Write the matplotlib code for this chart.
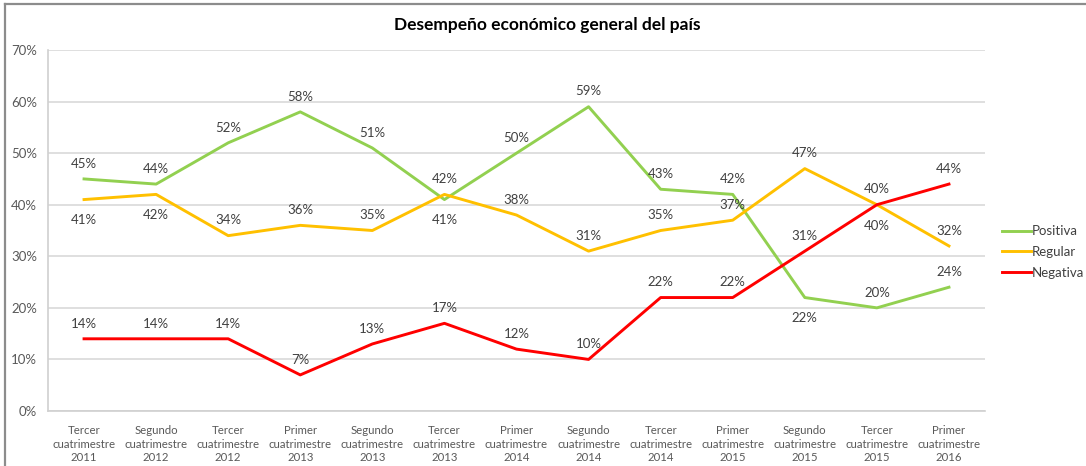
import matplotlib
matplotlib.use("Agg")
import matplotlib.pyplot as plt
from matplotlib.lines import Line2D

periods = [
    "Tercer\ncuatrimestre\n2011", "Segundo\ncuatrimestre\n2012", "Tercer\ncuatrimestre\n2012",
    "Primer\ncuatrimestre\n2013", "Segundo\ncuatrimestre\n2013", "Tercer\ncuatrimestre\n2013",
    "Primer\ncuatrimestre\n2014", "Segundo\ncuatrimestre\n2014", "Tercer\ncuatrimestre\n2014",
    "Primer\ncuatrimestre\n2015", "Segundo\ncuatrimestre\n2015", "Tercer\ncuatrimestre\n2015",
    "Primer\ncuatrimestre\n2016",
]
positiva = [45, 44, 52, 58, 51, 41, 50, 59, 43, 42, 22, 20, 24]
regular = [41, 42, 34, 36, 35, 42, 38, 31, 35, 37, 47, 40, 32]
negativa = [14, 14, 14, 7, 13, 17, 12, 10, 22, 22, 31, 40, 44]
yticks = [0, 10, 20, 30, 40, 50, 60, 70]

# label placement per point: +1 above the line, -1 below it
pos_side = [1, 1, 1, 1, 1, -1, 1, 1, 1, 1, -1, 1, 1]
reg_side = [-1, -1, 1, 1, 1, 1, 1, 1, 1, 1, 1, -1, 1]
neg_side = [1, 1, 1, 1, 1, 1, 1, 1, 1, 1, 1, 1, 1]

plt.rcParams['font.family'] = ['Lato', 'DejaVu Sans']

W, H = 1086, 466
fig = plt.figure(figsize=(W / 100, H / 100), dpi=100)
ax = fig.add_axes([48 / W, 1 - 411 / H, (985 - 48) / W, (411 - 50) / H])

series = [
    ("Positiva", positiva, "#92D050", pos_side),
    ("Regular", regular, "#FFC000", reg_side),
    ("Negativa", negativa, "#FF0000", neg_side),
]
x = list(range(len(periods)))
handles = []
for name, vals, color, sides in series:
    ax.plot(x, vals, color=color, lw=2.1, solid_joinstyle="round", zorder=3)
    handles.append(Line2D([0], [0], color=color, lw=2.1, label=name))
    for xi, v, s in zip(x, vals, sides):
        ax.annotate(f"{v}%", (xi, v), xytext=(0, 11 if s > 0 else -15),
                    textcoords="offset points", ha="center", va="center",
                    fontsize=9.5, color="#404040", zorder=4)

ax.set_xlim(-0.5, len(periods) - 0.5)
ax.set_ylim(0, 70)
ax.set_yticks(yticks)
ax.set_yticklabels([f"{t}%" for t in yticks], fontsize=9.5, color="#595959")
ax.set_xticks(x)
ax.set_xticklabels(periods, fontsize=8.2, color="#595959", linespacing=1.3)
ax.tick_params(axis="y", length=0, pad=8)
ax.tick_params(axis="x", length=0, pad=10)
ax.grid(axis="y", color="#D9D9D9", lw=1.2)
ax.set_axisbelow(True)
for sp in ["top", "right"]:
    ax.spines[sp].set_visible(False)
for sp in ["left", "bottom"]:
    ax.spines[sp].set_color("#D0D0D0")
    ax.spines[sp].set_linewidth(1.2)

fig.text(547 / W, 1 - 25 / H, "Desempeño económico general del país",
         ha="center", va="center", fontsize=12.5, fontweight="bold", color="black")

fig.legend(handles=handles, loc="center left", bbox_to_anchor=(990 / W, 1 - 252 / H),
           frameon=False, fontsize=9.5, handlelength=2.2, handletextpad=0.1,
           labelspacing=0.65, labelcolor="#404040")

# chart frame edges
fig.add_artist(Line2D([5 / W, 1], [1 - 4 / H, 1 - 4 / H], color="#8C8C8C", lw=1.6,
                      transform=fig.transFigure))
fig.add_artist(Line2D([5 / W, 5 / W], [0, 1 - 4 / H], color="#8C8C8C", lw=1.6,
                      transform=fig.transFigure))

fig.savefig("out.png", dpi=100, facecolor="white")
